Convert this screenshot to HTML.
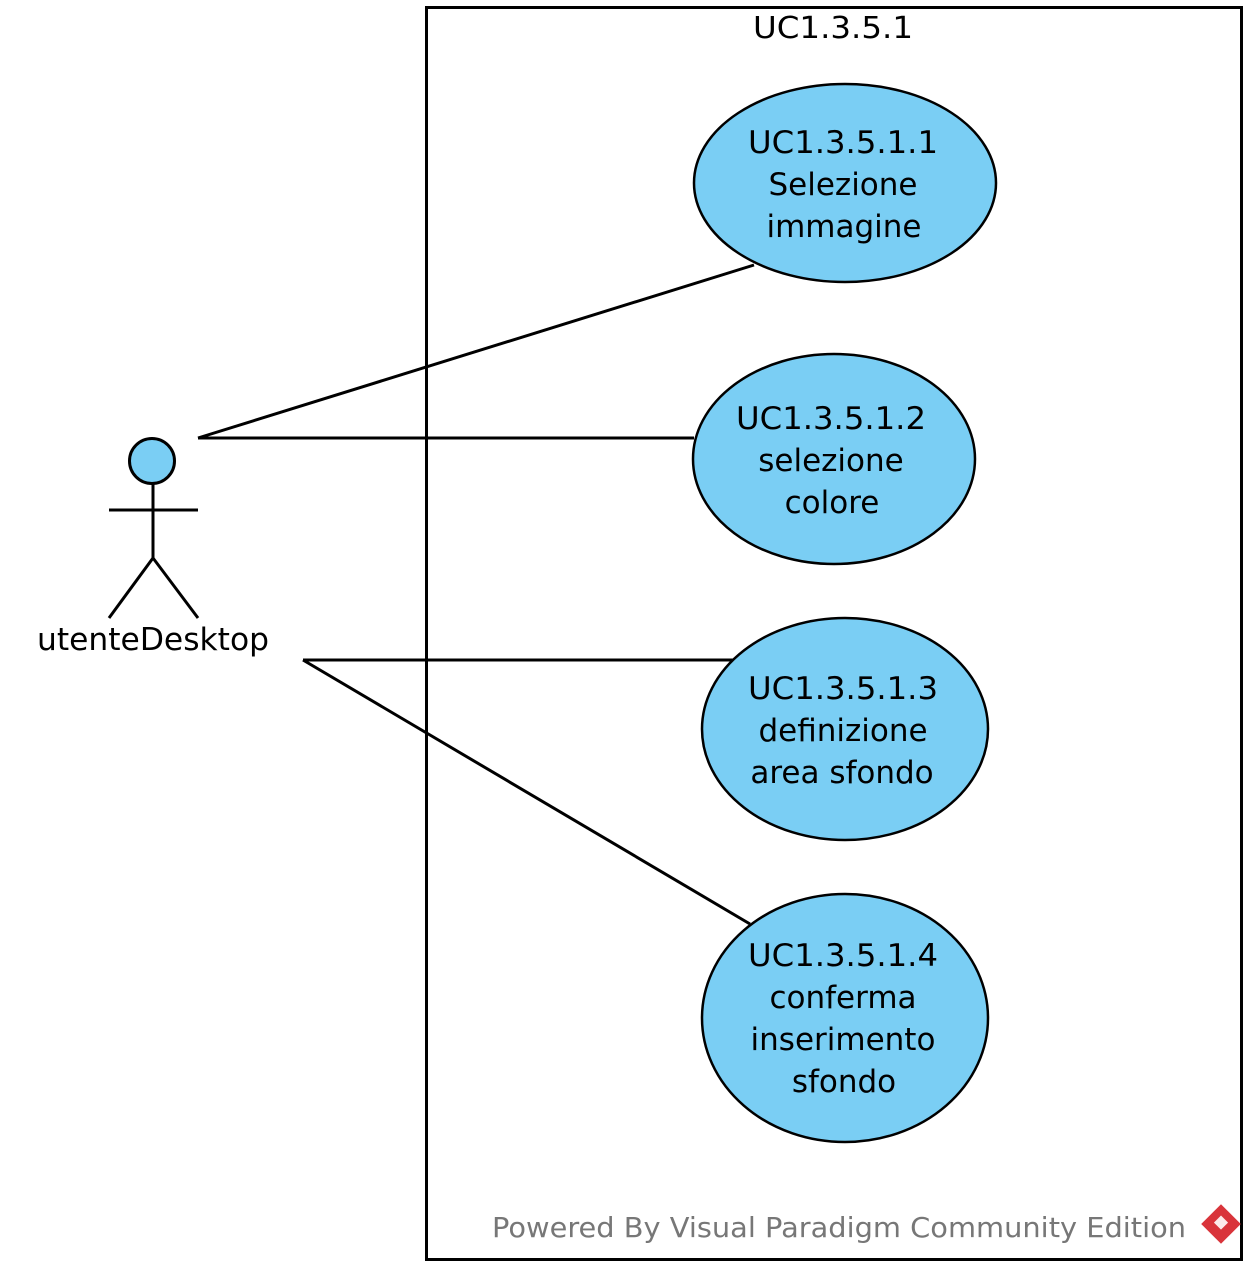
<!DOCTYPE html>
<html><head><meta charset="utf-8"><style>
html,body{margin:0;padding:0;background:#fff;}
svg{display:block;}
text{font-family:"DejaVu Sans","Liberation Sans",sans-serif;}
</style></head><body>
<svg width="1257" height="1275" viewBox="0 0 1257 1275" xmlns="http://www.w3.org/2000/svg">
<rect x="426.5" y="7.5" width="815" height="1252" fill="#fff" stroke="#000" stroke-width="3"/>
<text x="833" y="38" font-size="30" text-anchor="middle" textLength="160" lengthAdjust="spacingAndGlyphs">UC1.3.5.1</text>

<g stroke="#000" stroke-width="3" fill="none">
<line x1="198" y1="438" x2="754" y2="265"/>
<line x1="198" y1="438" x2="694" y2="438"/>
<line x1="303" y1="660" x2="733" y2="660"/>
<line x1="303" y1="660" x2="750" y2="924"/>
</g>

<g fill="#7acef4" stroke="#000" stroke-width="2.5">
<ellipse cx="845" cy="183" rx="151" ry="99"/>
<ellipse cx="834" cy="459" rx="141" ry="105"/>
<ellipse cx="845" cy="729" rx="143" ry="111"/>
<ellipse cx="845" cy="1018" rx="143" ry="124"/>
</g>

<g font-size="31" text-anchor="middle" fill="#000">
<text x="843" y="153" textLength="190" lengthAdjust="spacingAndGlyphs">UC1.3.5.1.1</text>
<text x="843" y="195">Selezione</text>
<text x="844" y="237">immagine</text>
<text x="831" y="429" textLength="190" lengthAdjust="spacingAndGlyphs">UC1.3.5.1.2</text>
<text x="831" y="471">selezione</text>
<text x="832" y="513">colore</text>
<text x="843" y="699" textLength="190" lengthAdjust="spacingAndGlyphs">UC1.3.5.1.3</text>
<text x="843" y="741">definizione</text>
<text x="842" y="783">area sfondo</text>
<text x="843" y="966" textLength="190" lengthAdjust="spacingAndGlyphs">UC1.3.5.1.4</text>
<text x="843" y="1008">conferma</text>
<text x="843" y="1050">inserimento</text>
<text x="844" y="1092">sfondo</text>
</g>

<g stroke="#000" stroke-width="3" fill="none">
<line x1="153" y1="483" x2="153" y2="558"/>
<line x1="109" y1="510" x2="198" y2="510"/>
<line x1="153" y1="558" x2="109" y2="618"/>
<line x1="153" y1="558" x2="198" y2="618"/>
</g>
<circle cx="152" cy="461" r="22.5" fill="#7acef4" stroke="#000" stroke-width="3"/>
<text x="153" y="650" font-size="31" text-anchor="middle" textLength="232" lengthAdjust="spacingAndGlyphs">utenteDesktop</text>

<text x="492" y="1237" font-size="28" fill="#777" textLength="694" lengthAdjust="spacingAndGlyphs">Powered By Visual Paradigm Community Edition</text>
<g transform="translate(1221,1224) rotate(45)">
<rect x="-14" y="-14" width="28" height="28" fill="#d9343b"/>
<rect x="-6" y="-6" width="10" height="10" fill="#fff" opacity="0.9"/>
</g>
</svg>
</body></html>
